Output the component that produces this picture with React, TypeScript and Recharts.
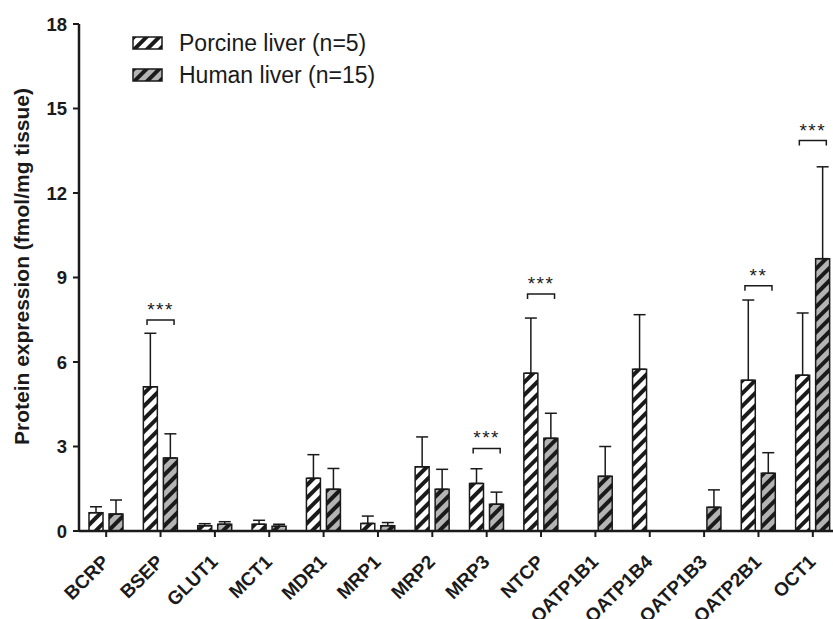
import React from "react";
import {
  BarChart,
  Bar,
  XAxis,
  YAxis,
  ErrorBar,
  ReferenceDot,
} from "recharts";

const categories = [
  "BCRP", "BSEP", "GLUT1", "MCT1", "MDR1", "MRP1", "MRP2",
  "MRP3", "NTCP", "OATP1B1", "OATP1B4", "OATP1B3", "OATP2B1", "OCT1",
];

const porcineMean = [0.65, 5.12, 0.19, 0.24, 1.87, 0.27, 2.28, 1.69, 5.6, null, 5.74, null, 5.35, 5.53];
const porcineSd = [0.21, 1.9, 0.07, 0.14, 0.84, 0.26, 1.06, 0.52, 1.96, null, 1.94, null, 2.85, 2.21];
const humanMean = [0.6, 2.59, 0.24, 0.17, 1.48, 0.19, 1.48, 0.95, 3.29, 1.94, null, 0.84, 2.05, 9.67];
const humanSd = [0.5, 0.86, 0.09, 0.07, 0.74, 0.11, 0.71, 0.43, 0.89, 1.06, null, 0.62, 0.73, 3.26];

const yTicks = [0, 3, 6, 9, 12, 15, 18];

const sigCategories = ["BSEP", "MRP3", "NTCP", "OATP2B1", "OCT1"];
const sigLevels = [7.49, 2.93, 8.41, 8.71, 13.86];
const sigLabels = ["***", "***", "***", "**", "***"];

const legendLabels = ["Porcine liver (n=5)", "Human liver (n=15)"];

const data = categories.map((name, i) => ({
  name,
  porcine: porcineMean[i],
  porcineErr: porcineSd[i] == null ? undefined : [0, porcineSd[i]],
  human: humanMean[i],
  humanErr: humanSd[i] == null ? undefined : [0, humanSd[i]],
}));

const FONT = "'Liberation Sans', Arial, Helvetica, sans-serif";
const INK = "#1a1a1a";
const GREY = "#b4b4b4";

const XTick = (props: any) => {
  const { x, y, payload } = props;
  return (
    <g transform={`translate(${x},${y})`}>
      <text
        x={0}
        y={0}
        transform="translate(4,24) rotate(-45)"
        textAnchor="end"
        fontFamily={FONT}
        fontWeight="bold"
        fontSize={19}
        fill={INK}
      >
        {payload.value}
      </text>
    </g>
  );
};

const YTick = (props: any) => {
  const { x, y, payload } = props;
  return (
    <text
      x={x}
      y={y}
      dy={6.5}
      textAnchor="end"
      fontFamily={FONT}
      fontWeight="bold"
      fontSize={18.5}
      fill={INK}
    >
      {payload.value}
    </text>
  );
};

const Bracket = (label: string) => (props: any) => {
  const { cx, cy } = props;
  const w = 13.5;
  return (
    <g>
      <path
        d={`M${cx - w},${cy + 5} V${cy} H${cx + w} V${cy + 5}`}
        fill="none"
        stroke={INK}
        strokeWidth={1.5}
      />
      <text
        x={cx}
        y={cy - 4}
        textAnchor="middle"
        fontFamily={FONT}
        fontSize={19}
        fill={INK}
        letterSpacing={1.5}
      >
        {label}
      </text>
    </g>
  );
};

const LegendBox = () => {
  const fills = ["url(#stripeWhite)", "url(#stripeGrey)"];
  return (
    <div
      style={{
        position: "absolute",
        left: 132,
        top: 27,
        fontFamily: FONT,
        fontSize: 23,
        color: INK,
        whiteSpace: "nowrap",
      }}
    >
      {legendLabels.map((label, i) => (
        <div key={label} style={{ display: "flex", alignItems: "center", height: 32 }}>
          <svg width={32} height={14} style={{ marginRight: 15 }}>
            <rect x={1} y={1} width={29} height={12} fill={fills[i]} stroke={INK} strokeWidth={1.5} />
          </svg>
          <span>{label}</span>
        </div>
      ))}
    </div>
  );
};

export default function App() {
  return (
    <div
      style={{
        position: "absolute",
        left: 0,
        top: 0,
        width: 833,
        height: 619,
        overflow: "hidden",
        background: "#fff",
      }}
    >
      <BarChart
        width={842}
        height={619}
        data={data}
        margin={{ top: 24, right: 2, left: 0, bottom: 0 }}
        barSize={14}
        barGap={6}
      >
        <defs>
          <pattern id="stripeWhite" patternUnits="userSpaceOnUse" width={9} height={9} patternTransform="rotate(45)">
            <rect width={9} height={9} fill="#fff" />
            <rect width={4} height={9} fill={INK} />
          </pattern>
          <pattern id="stripeGrey" patternUnits="userSpaceOnUse" width={9} height={9} patternTransform="rotate(45)">
            <rect width={9} height={9} fill={GREY} />
            <rect width={4} height={9} fill={INK} />
          </pattern>
        </defs>
        <XAxis
          dataKey="name"
          height={88}
          interval={0}
          tick={<XTick />}
          tickSize={6}
          axisLine={{ stroke: INK, strokeWidth: 2.5 }}
          tickLine={{ stroke: INK, strokeWidth: 2 }}
        />
        <YAxis
          width={79}
          domain={[0, 18]}
          ticks={yTicks}
          interval={0}
          tickSize={6}
          tickMargin={6}
          tick={<YTick />}
          axisLine={{ stroke: INK, strokeWidth: 2.5 }}
          tickLine={{ stroke: INK, strokeWidth: 2 }}
          label={{
            content: (p: any) => {
              const vb = p.viewBox || { y: 24, height: 507 };
              const cy = vb.y + vb.height / 2 - 11;
              return (
                <text
                  x={29}
                  y={cy}
                  transform={`rotate(-90, 29, ${cy})`}
                  textAnchor="middle"
                  fontFamily={FONT}
                  fontWeight="bold"
                  fontSize={21}
                  fill={INK}
                >
                  Protein expression (fmol/mg tissue)
                </text>
              );
            },
          }}
        />
        <Bar
          dataKey="porcine"
          name={legendLabels[0]}
          fill="url(#stripeWhite)"
          stroke={INK}
          strokeWidth={1.5}
          isAnimationActive={false}
        >
          <ErrorBar dataKey="porcineErr" width={6} stroke={INK} strokeWidth={1.5} direction="y" />
        </Bar>
        <Bar
          dataKey="human"
          name={legendLabels[1]}
          fill="url(#stripeGrey)"
          stroke={INK}
          strokeWidth={1.5}
          isAnimationActive={false}
        >
          <ErrorBar dataKey="humanErr" width={6} stroke={INK} strokeWidth={1.5} direction="y" />
        </Bar>
        {sigCategories.map((c, i) => (
          <ReferenceDot
            key={c}
            x={c}
            y={sigLevels[i]}
            r={1}
            ifOverflow="visible"
            shape={Bracket(sigLabels[i])}
          />
        ))}
      </BarChart>
      <LegendBox />
    </div>
  );
}
